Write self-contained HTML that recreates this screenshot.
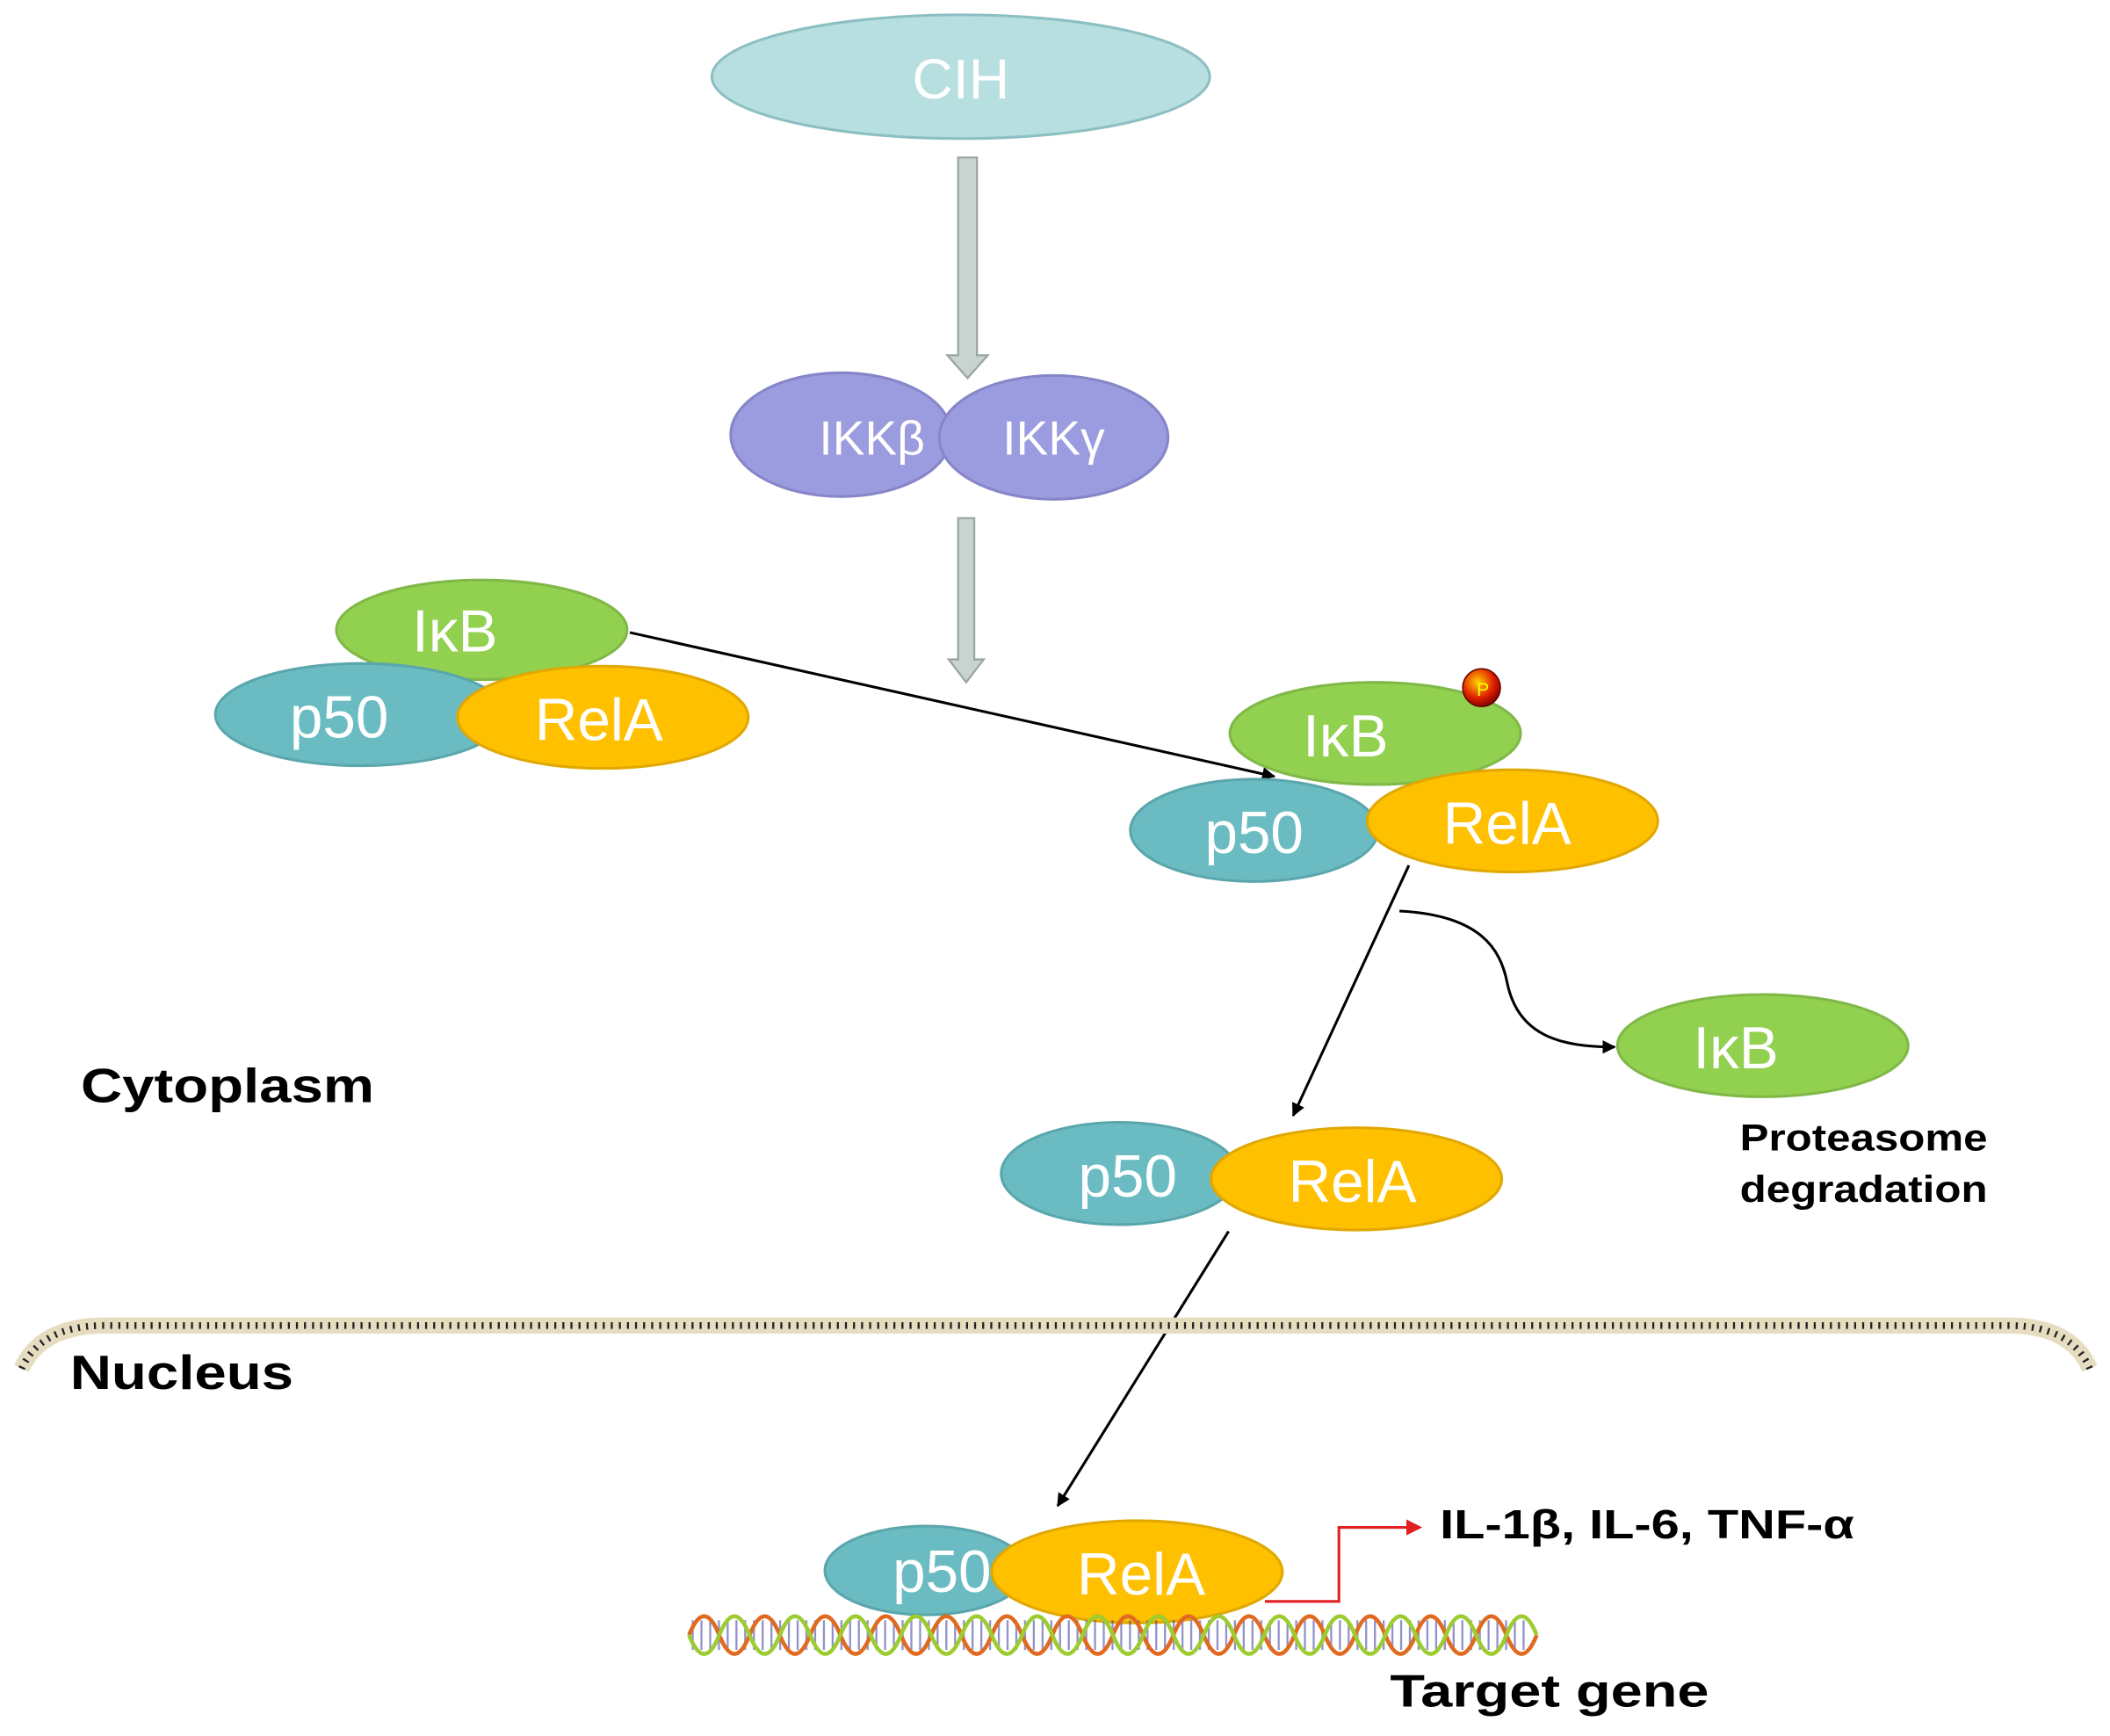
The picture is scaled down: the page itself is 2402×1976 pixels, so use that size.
<!DOCTYPE html>
<html><head><meta charset="utf-8"><style>
html,body{margin:0;padding:0;background:#fff;}
svg{display:block;}
text{font-family:"Liberation Sans",Arial,sans-serif;}
.w{fill:#fff;font-size:44px;text-anchor:middle;}
.b{fill:#000;font-weight:bold;}
</style></head><body>
<svg width="2402" height="1976" viewBox="0 0 1568 1290" xmlns="http://www.w3.org/2000/svg">
<defs>
<marker id="ah" markerWidth="10" markerHeight="10" refX="9" refY="5" orient="auto" markerUnits="userSpaceOnUse" viewBox="0 0 10 10">
<path d="M0,0 L10,5 L0,10 z" fill="#000"/></marker>
<marker id="ahr" markerWidth="12" markerHeight="12" refX="10" refY="6" orient="auto" markerUnits="userSpaceOnUse" viewBox="0 0 12 12">
<path d="M0,0 L12,6 L0,12 z" fill="#e02020"/></marker>
<radialGradient id="pg" cx="0.4" cy="0.35" r="0.7"><stop offset="0" stop-color="#ffd000"/><stop offset="0.6" stop-color="#e02000"/><stop offset="1" stop-color="#700"/></radialGradient>
</defs>
<ellipse cx="714" cy="57" rx="185" ry="46" fill="#b7dfe0" stroke="#8cbfc2" stroke-width="2"/>
<text x="714" y="73" class="w" style="font-size:42px">CIH</text>
<path d="M712,117 H726 V264 H734 L719,281 L704,264 H712 Z" fill="#c9d3cf" stroke="#9aa7a2" stroke-width="1.5"/>
<path d="M712,385 H724 V490 H731 L718,507 L705,490 H712 Z" fill="#c9d3cf" stroke="#9aa7a2" stroke-width="1.5"/>
<ellipse cx="625" cy="323" rx="82" ry="46" fill="#9b9be0" stroke="#8585c8" stroke-width="2"/>
<ellipse cx="783" cy="325" rx="85" ry="46" fill="#9b9be0" stroke="#8585c8" stroke-width="2"/>
<text x="648" y="338" class="w" style="font-size:36px">IKKβ</text>
<text x="783" y="338" class="w" style="font-size:36px">IKKγ</text>
<ellipse cx="358" cy="468" rx="108" ry="37" fill="#92d050" stroke="#80b848" stroke-width="2"/>
<ellipse cx="268" cy="531" rx="108" ry="38" fill="#6bbcc2" stroke="#5aa6ac" stroke-width="2"/>
<ellipse cx="448" cy="533" rx="108" ry="38" fill="#ffc000" stroke="#e0a800" stroke-width="2"/>
<text x="338" y="484" class="w">IκB</text>
<text x="252" y="548" class="w">p50</text>
<text x="445" y="550" class="w">RelA</text>
<line x1="468" y1="470" x2="947" y2="577" stroke="#000" stroke-width="2" marker-end="url(#ah)"/>
<ellipse cx="1022" cy="545" rx="108" ry="38" fill="#92d050" stroke="#80b848" stroke-width="2"/>
<ellipse cx="932" cy="617" rx="92" ry="38" fill="#6bbcc2" stroke="#5aa6ac" stroke-width="2"/>
<ellipse cx="1124" cy="610" rx="108" ry="38" fill="#ffc000" stroke="#e0a800" stroke-width="2"/>
<text x="1000" y="562" class="w">IκB</text>
<text x="932" y="634" class="w">p50</text>
<text x="1120" y="627" class="w">RelA</text>
<circle cx="1101" cy="511" r="14" fill="url(#pg)" stroke="#600" stroke-width="1"/>
<text x="1102" y="517" style="font-size:14px;fill:#ff0;text-anchor:middle">P</text>
<line x1="1047" y1="643" x2="961" y2="829" stroke="#000" stroke-width="2" marker-end="url(#ah)"/>
<path d="M1040,677 C1100,680 1115,705 1120,730 C1128,770 1160,778 1200,778" fill="none" stroke="#000" stroke-width="2" marker-end="url(#ah)"/>
<ellipse cx="1310" cy="777" rx="108" ry="38" fill="#92d050" stroke="#80b848" stroke-width="2"/>
<text x="1290" y="794" class="w">IκB</text>
<text x="1293" y="855" class="b" style="font-size:28px" textLength="184" lengthAdjust="spacingAndGlyphs">Proteasome</text>
<text x="1293" y="893" class="b" style="font-size:28px" textLength="184" lengthAdjust="spacingAndGlyphs">degradation</text>
<text x="60" y="819" class="b" style="font-size:36px" textLength="218" lengthAdjust="spacingAndGlyphs">Cytoplasm</text>
<ellipse cx="832" cy="872" rx="88" ry="38" fill="#6bbcc2" stroke="#5aa6ac" stroke-width="2"/>
<ellipse cx="1008" cy="876" rx="108" ry="38" fill="#ffc000" stroke="#e0a800" stroke-width="2"/>
<text x="838" y="889" class="w">p50</text>
<text x="1005" y="893" class="w">RelA</text>
<line x1="913" y1="915" x2="786" y2="1119" stroke="#000" stroke-width="2" marker-end="url(#ah)"/>
<path d="M16,1017 Q30,986 75,985 L1495,985 Q1540,986 1553,1017" fill="none" stroke="#e6dcc0" stroke-width="12"/>
<path d="M16,1017 Q30,986 75,985 L1495,985 Q1540,986 1553,1017" fill="none" stroke="#222" stroke-width="5" stroke-dasharray="1.5 4.5"/>
<text x="52" y="1032" class="b" style="font-size:36px" textLength="166" lengthAdjust="spacingAndGlyphs">Nucleus</text>
<ellipse cx="688" cy="1167" rx="75" ry="33" fill="#6bbcc2" stroke="#5aa6ac" stroke-width="2"/>
<ellipse cx="845" cy="1168" rx="108" ry="38" fill="#ffc000" stroke="#e0a800" stroke-width="2"/>
<text x="700" y="1183" class="w">p50</text>
<text x="848" y="1185" class="w">RelA</text>
<path d="M940,1190 H995 V1135 H1055" fill="none" stroke="#e02020" stroke-width="2" marker-end="url(#ahr)"/>
<text x="1070" y="1143" class="b" style="font-size:30px" textLength="308" lengthAdjust="spacingAndGlyphs">IL-1β, IL-6, TNF-α</text>
<line x1="514" y1="1215" x2="1136" y2="1215" stroke="#3a3aa0" stroke-width="22" stroke-dasharray="1.5 5" opacity="0.55"/>
<path d="M512,1215 q11.25,-28 22.5,0 t22.5,0 t22.5,0 t22.5,0 t22.5,0 t22.5,0 t22.5,0 t22.5,0 t22.5,0 t22.5,0 t22.5,0 t22.5,0 t22.5,0 t22.5,0 t22.5,0 t22.5,0 t22.5,0 t22.5,0 t22.5,0 t22.5,0 t22.5,0 t22.5,0 t22.5,0 t22.5,0 t22.5,0 t22.5,0 t22.5,0 t22.5,0" fill="none" stroke="#e06a20" stroke-width="3"/>
<path d="M512,1215 q11.25,28 22.5,0 t22.5,0 t22.5,0 t22.5,0 t22.5,0 t22.5,0 t22.5,0 t22.5,0 t22.5,0 t22.5,0 t22.5,0 t22.5,0 t22.5,0 t22.5,0 t22.5,0 t22.5,0 t22.5,0 t22.5,0 t22.5,0 t22.5,0 t22.5,0 t22.5,0 t22.5,0 t22.5,0 t22.5,0 t22.5,0 t22.5,0 t22.5,0" fill="none" stroke="#9ccc30" stroke-width="3"/>
<text x="1033" y="1268" class="b" style="font-size:34px" textLength="237" lengthAdjust="spacingAndGlyphs">Target gene</text>
</svg>
</body></html>
